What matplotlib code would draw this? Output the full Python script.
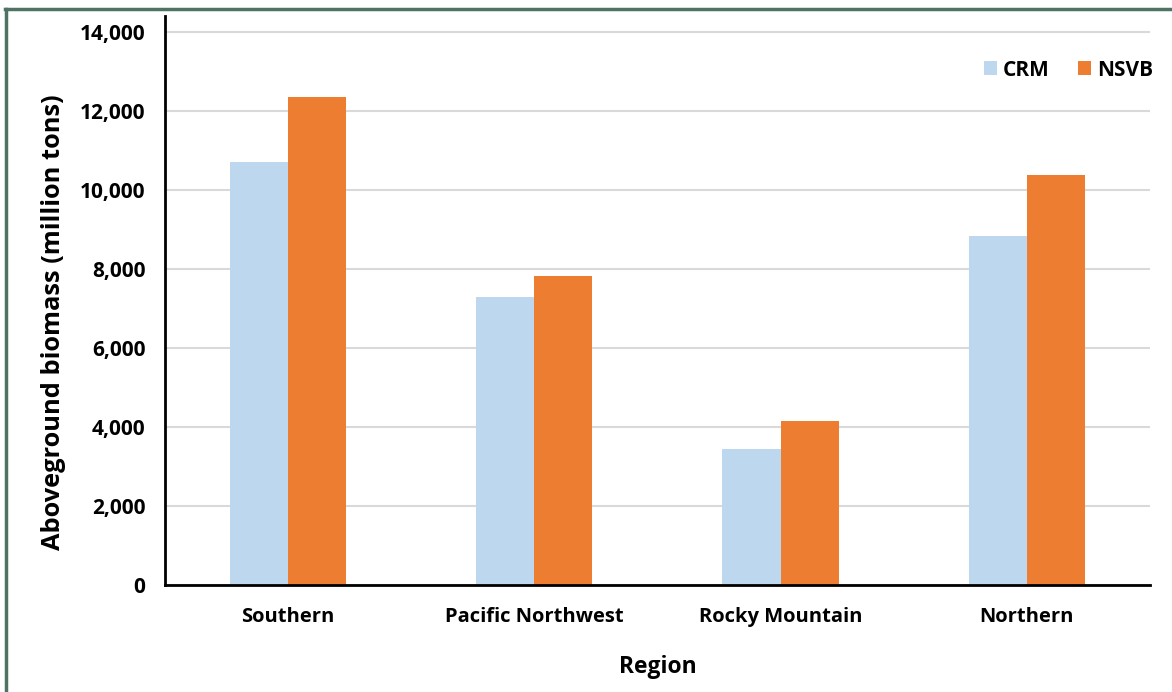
import numpy as np
import matplotlib.pyplot as plt
from matplotlib.lines import Line2D
from matplotlib.ticker import FuncFormatter

regions = ["Southern", "Pacific Northwest", "Rocky Mountain", "Northern"]
crm = [10700, 7300, 3450, 8840]
nsvb = [12360, 7830, 4160, 10380]

plt.rcParams['font.family'] = ['Open Sans', 'DejaVu Sans']
plt.rcParams['font.weight'] = 'bold'

fig = plt.figure(figsize=(11.72, 6.92), dpi=100)
ax = fig.add_axes([0.1408, 0.1546, 0.8404, 0.8223])

x = np.arange(len(regions))
w = 0.236
ax.bar(x - w / 2, crm, w, color='#bdd7ee', label='CRM', zorder=2)
ax.bar(x + w / 2, nsvb, w, color='#ed7d31', label='NSVB', zorder=2)

ax.set_xlim(-0.5, len(regions) - 0.5)
ax.set_ylim(0, 14400)
ax.set_yticks(np.arange(0, 14001, 2000))
ax.yaxis.set_major_formatter(FuncFormatter(lambda v, p: f"{int(v):,}"))
ax.grid(axis='y', color='#d9d9d9', linewidth=1.5, zorder=0)
ax.set_xticks(x)
ax.set_xticklabels(regions)

for s in ['top', 'right']:
    ax.spines[s].set_visible(False)
ax.spines['left'].set_linewidth(2)
ax.spines['bottom'].set_linewidth(2)
ax.tick_params(axis='y', length=0, labelsize=15, pad=14)
ax.tick_params(axis='x', length=0, labelsize=14.5, pad=16)

ax.set_ylabel('Aboveground biomass (million tons)', fontsize=18.3, fontweight='bold',
              labelpad=10, y=0.462)
ax.set_xlabel('Region', fontsize=16.5, fontweight='bold', labelpad=20)

ax.legend(loc='center right', bbox_to_anchor=(1.003, 0.905), frameon=False, ncol=2,
          fontsize=15, handlelength=0.62, handleheight=0.62, columnspacing=1.35,
          handletextpad=0.3, borderpad=0, borderaxespad=0)

# frame lines along the top and left edges
fig.add_artist(Line2D([5 / 1172, 1], [1 - 9 / 692, 1 - 9 / 692], color='#4f7363',
                      linewidth=2.5, transform=fig.transFigure))
fig.add_artist(Line2D([6 / 1172, 6 / 1172], [0, 1 - 9 / 692], color='#4f7363',
                      linewidth=2.5, transform=fig.transFigure))

fig.savefig('out.png', dpi=100)
